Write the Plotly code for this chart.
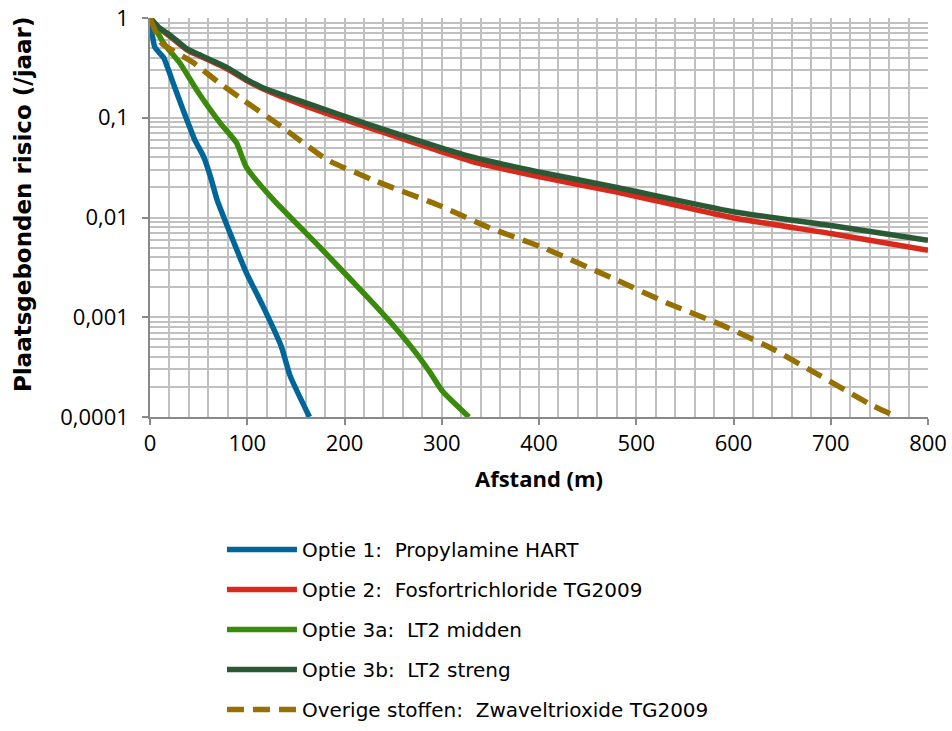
import plotly.graph_objects as go

# Distance (m) and location-based risk (/year) per scenario
opt1_x = [0, 5, 14, 24, 34, 46, 55, 62, 69, 82, 99, 116, 135, 144, 164]
opt1_y = [1, 0.51, 0.40, 0.22, 0.12, 0.06, 0.041, 0.026, 0.015, 0.0071, 0.0028, 0.0013, 0.00051, 0.00026, 0.0001]

opt2_x = [0, 10, 20, 38, 48, 79, 100, 116, 161, 226, 329, 397, 480, 598, 700, 800]
opt2_y = [1, 0.78, 0.66, 0.48, 0.43, 0.31, 0.235, 0.195, 0.13, 0.079, 0.037, 0.026, 0.018, 0.010, 0.0069, 0.0047]

opt3a_x = [0, 14, 31, 48, 72, 89, 99, 127, 175, 226, 250, 275, 288, 301, 328]
opt3a_y = [1, 0.56, 0.35, 0.19, 0.089, 0.056, 0.032, 0.015, 0.005, 0.0015, 0.00083, 0.00042, 0.00028, 0.00018, 0.0001]

opt3b_x = [0, 10, 20, 38, 48, 79, 100, 116, 161, 226, 329, 397, 480, 598, 700, 800]
opt3b_y = [1, 0.79, 0.68, 0.49, 0.44, 0.32, 0.24, 0.20, 0.14, 0.085, 0.041, 0.029, 0.020, 0.0115, 0.0083, 0.0059]

other_x = [0, 12, 44, 72, 92, 137, 182, 233, 295, 349, 404, 478, 531, 586, 637, 689, 740, 768]
other_y = [1, 0.56, 0.36, 0.22, 0.16, 0.079, 0.038, 0.023, 0.0135, 0.0079, 0.005, 0.0024, 0.0014, 0.00085, 0.0005, 0.00026, 0.000135, 0.0001]

names = [
    "Optie 1:  Propylamine HART",
    "Optie 2:  Fosfortrichloride TG2009",
    "Optie 3a:  LT2 midden",
    "Optie 3b:  LT2 streng",
    "Overige stoffen:  Zwaveltrioxide TG2009",
]
colors = ["#006699", "#D9291C", "#3A8A0C", "#2A5A35", "#967000"]

y_tickvals = [1, 0.1, 0.01, 0.001, 0.0001]
y_ticktext = ["1", "0,1", "0,01", "0,001", "0,0001"]
x_tickvals = [0, 100, 200, 300, 400, 500, 600, 700, 800]

series = [(opt1_x, opt1_y), (opt2_x, opt2_y), (opt3a_x, opt3a_y), (opt3b_x, opt3b_y), (other_x, other_y)]

fig = go.Figure()
for i, ((xs, ys), nm, c) in enumerate(zip(series, names, colors)):
    dash = "17px,9px" if i == 4 else "solid"
    fig.add_trace(go.Scatter(
        x=xs, y=ys, mode="lines", name=nm, legendgroup=f"g{i}",
        line=dict(color=c, width=5.5, dash=dash, shape="spline", smoothing=0.5),
    ))

minor_y = [m * 10 ** e for e in range(-4, 0) for m in range(2, 10)]

fig.update_layout(
    width=952, height=731,
    margin=dict(l=150, r=24, t=18, b=314, autoexpand=False),
    paper_bgcolor="white", plot_bgcolor="white",
    font=dict(family="Open Sans", size=22, color="#000000"),
    showlegend=True,
    legend=dict(
        x=0.0925, y=-0.283, xanchor="left", yanchor="top",
        font=dict(family="DejaVu Sans", size=20, color="#000000"),
        itemwidth=70, tracegroupgap=11, bgcolor="rgba(0,0,0,0)",
    ),
    xaxis=dict(
        range=[0, 800], tickvals=x_tickvals, ticks="outside", ticklen=6,
        tickcolor="#898989", tickwidth=1.5,
        showline=True, linecolor="#898989", linewidth=1.5,
        showgrid=True, gridcolor="#C0C0C0", gridwidth=1.5,
        minor=dict(dtick=20, showgrid=True, gridcolor="#C0C0C0", gridwidth=1.5, ticks=""),
        tickfont=dict(family="Open Sans", size=22),
        title=dict(text="<b>Afstand (m)</b>", font=dict(family="Open Sans", size=22), standoff=15),
        zeroline=False, mirror=False,
    ),
    yaxis=dict(
        type="log", range=[-4, 0], tickvals=y_tickvals, ticktext=y_ticktext,
        ticks="outside", ticklen=6, tickcolor="#898989", tickwidth=1.5,
        showline=True, linecolor="#898989", linewidth=1.5,
        showgrid=True, gridcolor="#C0C0C0", gridwidth=1.5,
        minor=dict(tickvals=minor_y, showgrid=True, gridcolor="#C0C0C0", gridwidth=1.5, ticks=""),
        tickfont=dict(family="Open Sans", size=22),
        ticklabelstandoff=9,
        zeroline=False,
    ),
    annotations=[dict(
        text="<b>Plaatsgebonden risico (/jaar)</b>", textangle=-90,
        xref="paper", yref="paper", x=-0.163, y=0.534,
        xanchor="center", yanchor="middle", showarrow=False,
        font=dict(family="DejaVu Sans", size=23, color="#000000"),
    )],
)

fig.write_html("out.html")
